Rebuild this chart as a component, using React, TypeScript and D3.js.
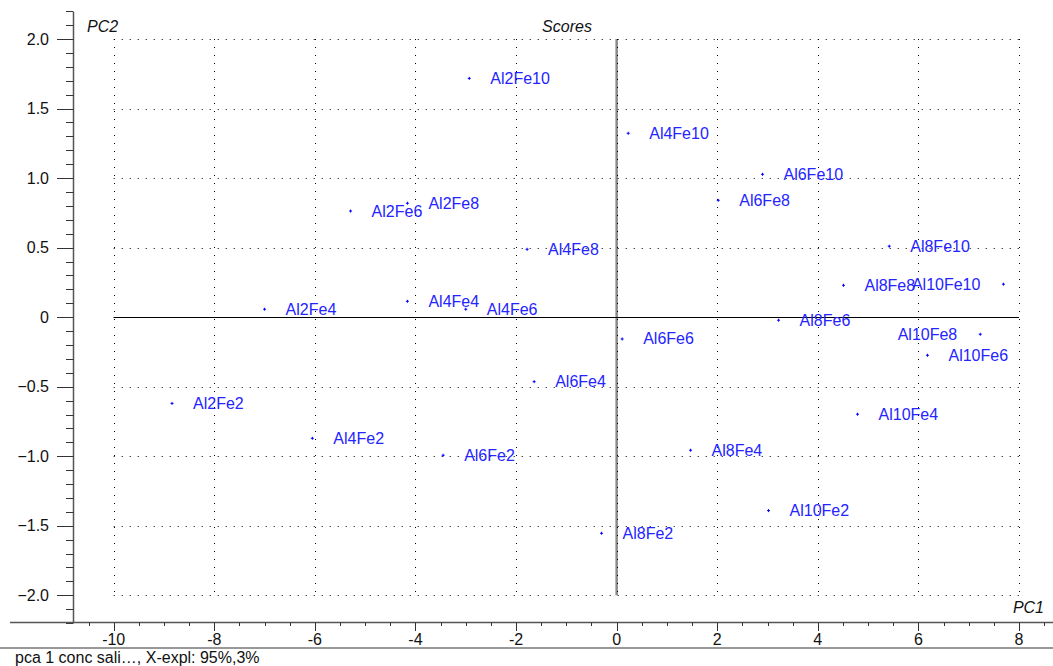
import React, { useEffect, useRef } from 'react'
import * as d3 from 'd3'

// sample names and their PCA scores
const names = [
  'Al2Fe2', 'Al2Fe4', 'Al2Fe6', 'Al2Fe8', 'Al2Fe10',
  'Al4Fe2', 'Al4Fe4', 'Al4Fe6', 'Al4Fe8', 'Al4Fe10',
  'Al6Fe2', 'Al6Fe4', 'Al6Fe6', 'Al6Fe8', 'Al6Fe10',
  'Al8Fe2', 'Al8Fe4', 'Al8Fe6', 'Al8Fe8', 'Al8Fe10',
  'Al10Fe2', 'Al10Fe4', 'Al10Fe6', 'Al10Fe8', 'Al10Fe10',
]
const pc1 = [
  -8.84, -7.0, -5.29, -4.16, -2.93,
  -6.05, -4.16, -3.0, -1.78, 0.23,
  -3.45, -1.64, 0.11, 2.02, 2.9,
  -0.3, 1.47, 3.22, 4.51, 5.42,
  3.02, 4.79, 6.18, 7.23, 7.69,
]
const pc2 = [
  -0.62, 0.057, 0.763, 0.819, 1.717,
  -0.871, 0.114, 0.057, 0.488, 1.322,
  -0.993, -0.464, -0.157, 0.84, 1.027,
  -1.554, -0.957, -0.022, 0.229, 0.51,
  -1.391, -0.698, -0.274, -0.123, 0.237,
]
// labels drawn on the left of their point
const leftLabels = ['Al10Fe8', 'Al10Fe10']

const xTicks = [-10, -8, -6, -4, -2, 0, 2, 4, 6, 8]
const yTicks = [-2, -1.5, -1, -0.5, 0, 0.5, 1, 1.5, 2]

const App = () => {
  const ref = useRef<SVGSVGElement>(null)

  useEffect(() => {
    const svg = d3.select(ref.current)
    svg.selectAll('*').remove()
    const font = 'Arial, "Liberation Sans", sans-serif'

    const x = d3.scaleLinear().domain([-10, 8]).range([113.7, 1019])
    const y = d3.scaleLinear().domain([-2, 2]).range([595.3, 39])

    // zero line (vertical), drawn under the dotted grid
    svg.append('line')
      .attr('x1', x(0)).attr('x2', x(0))
      .attr('y1', y(2)).attr('y2', y(-2))
      .attr('stroke', '#8a8a8a').attr('stroke-width', 2.5)

    const grid = svg.append('g')
      .attr('stroke', '#000')
      .attr('stroke-width', 1)
      .attr('stroke-dasharray', '1,7')
    xTicks.forEach(t => {
      grid.append('line')
        .attr('x1', Math.round(x(t)) + 0.5).attr('x2', Math.round(x(t)) + 0.5)
        .attr('y1', y(2)).attr('y2', y(-2))
    })
    yTicks.forEach(t => {
      grid.append('line')
        .attr('x1', x(-10)).attr('x2', x(8))
        .attr('y1', Math.round(y(t)) + 0.5).attr('y2', Math.round(y(t)) + 0.5)
    })

    svg.append('line')
      .attr('x1', x(-10)).attr('x2', x(8))
      .attr('y1', Math.round(y(0)) + 0.5).attr('y2', Math.round(y(0)) + 0.5)
      .attr('stroke', '#000')

    // y axis
    const axX = 73.5
    svg.append('line')
      .attr('x1', axX).attr('x2', axX).attr('y1', 12).attr('y2', 622)
      .attr('stroke', '#555').attr('stroke-width', 1.5)
    d3.range(-22, 23).forEach(i => {
      const v = i / 10
      const yy = Math.round(y(v)) + 0.5
      const major = i % 5 === 0
      svg.append('line')
        .attr('x1', major ? 57 : 66).attr('x2', axX)
        .attr('y1', yy).attr('y2', yy)
        .attr('stroke', '#333')
    })
    yTicks.forEach(t => {
      svg.append('text')
        .attr('x', 49).attr('y', y(t) + 5.5)
        .attr('text-anchor', 'end')
        .attr('font-family', font).attr('font-size', 16)
        .attr('fill', '#111')
        .text(t === 0 ? '0' : d3.format('.1f')(t))
    })

    // x axis
    const axY = 622.5
    svg.append('line')
      .attr('x1', 10).attr('x2', 1053).attr('y1', axY).attr('y2', axY)
      .attr('stroke', '#555').attr('stroke-width', 1.5)
    svg.append('line')
      .attr('x1', 0).attr('x2', 1053).attr('y1', 648).attr('y2', 648)
      .attr('stroke', '#333').attr('stroke-width', 1)
    d3.range(-21, 19).forEach(i => {
      const v = i / 2
      const xx = Math.round(x(v)) + 0.5
      const major = i % 4 === 0
      svg.append('line')
        .attr('x1', xx).attr('x2', xx)
        .attr('y1', axY).attr('y2', major ? 631 : 626)
        .attr('stroke', '#333')
    })
    xTicks.forEach(t => {
      svg.append('text')
        .attr('x', x(t)).attr('y', 645)
        .attr('text-anchor', 'middle')
        .attr('font-family', font).attr('font-size', 16)
        .attr('fill', '#111')
        .text(String(t))
    })

    // titles
    const italic = (tx: number, ty: number, s: string, anchor = 'start') =>
      svg.append('text')
        .attr('x', tx).attr('y', ty)
        .attr('text-anchor', anchor)
        .attr('font-family', font).attr('font-size', 16)
        .attr('font-style', 'italic').attr('fill', '#111')
        .text(s)
    italic(87, 32, 'PC2')
    italic(567, 32, 'Scores', 'middle')
    italic(1044, 613, 'PC1', 'end')

    svg.append('text')
      .attr('x', 15).attr('y', 663)
      .attr('font-family', font).attr('font-size', 16)
      .attr('fill', '#111')
      .text('pca 1 conc sali…, X-expl: 95%,3%')

    // points
    const pts = names.map((n, i) => ({ n, px: x(pc1[i]), py: y(pc2[i]) }))
    const g = svg.append('g')
    g.selectAll('path.pt')
      .data(pts)
      .enter()
      .append('path')
      .attr('d', d => `M${d.px - 1.5},${d.py}h3M${d.px},${d.py - 1.5}v3`)
      .attr('stroke', '#0000ff').attr('stroke-width', 1)
    g.selectAll('text.lbl')
      .data(pts)
      .enter()
      .append('text')
      .attr('x', d => leftLabels.includes(d.n) ? d.px - 23 : d.px + 21)
      .attr('y', d => d.py + 5.5)
      .attr('text-anchor', d => leftLabels.includes(d.n) ? 'end' : 'start')
      .attr('font-family', font).attr('font-size', 16)
      .attr('fill', '#2424ff')
      .text(d => d.n)
  }, [])

  return (
    <>
      <svg ref={ref} width={1053} height={666} style={{ position: 'absolute', left: 0, top: 0 }} />
    </>
  )
}

export default App
